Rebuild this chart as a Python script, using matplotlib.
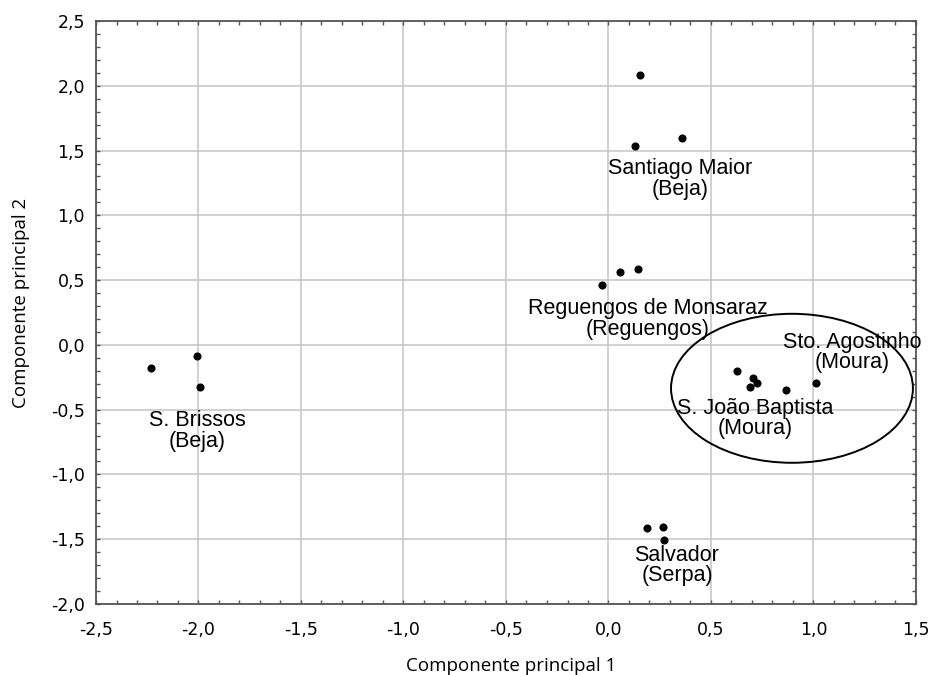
import matplotlib
matplotlib.use("Agg")
import matplotlib.pyplot as plt
from matplotlib.patches import Ellipse
from matplotlib.ticker import MultipleLocator, FuncFormatter

# ---- data ----
pc1 = [0.152, 0.129, 0.360,
       -0.030, 0.056, 0.145,
       0.628, 0.703, 0.726, 0.690, 0.866, 1.011,
       -2.230, -2.009, -1.993,
       0.189, 0.266, 0.271]
pc2 = [2.083, 1.535, 1.600,
       0.463, 0.561, 0.584,
       -0.198, -0.257, -0.296, -0.327, -0.347, -0.296,
       -0.175, -0.083, -0.327,
       -1.412, -1.407, -1.505]

group_labels = ["Santiago Maior\n(Beja)", "Reguengos de Monsaraz\n(Reguengos)",
                "Sto. Agostinho\n(Moura)", "S. João Baptista\n(Moura)",
                "S. Brissos\n(Beja)", "Salvador\n(Serpa)"]
label_x = [0.35, 0.19, 1.19, 0.715, -2.007, 0.334]
label_y = [1.281, 0.20, -0.058, -0.571, -0.664, -1.705]

ellipse_center = (0.895, -0.335)
ellipse_size = (1.18, 1.15)

xlim = (-2.5, 1.5)
ylim = (-2.0, 2.5)

# ---- plot ----
W, H = 933, 675
fig = plt.figure(figsize=(W / 100, H / 100), dpi=100)
ax = fig.add_axes([96 / W, 1 - 604 / H, (916 - 96) / W, (604 - 21) / H])

ax.scatter(pc1, pc2, s=34, color="black", zorder=3, linewidths=0)

for t, lx, ly in zip(group_labels, label_x, label_y):
    ax.text(lx, ly, t, ha="center", va="center", fontsize=15.5,
            family="Liberation Sans", linespacing=0.95, zorder=4,
            multialignment="center")

ax.add_patch(Ellipse(ellipse_center, ellipse_size[0], ellipse_size[1],
                     fill=False, edgecolor="black", linewidth=1.4, zorder=2))

ax.set_xlim(*xlim)
ax.set_ylim(*ylim)
ax.xaxis.set_major_locator(MultipleLocator(0.5))
ax.yaxis.set_major_locator(MultipleLocator(0.5))
ax.xaxis.set_minor_locator(MultipleLocator(0.1))
ax.yaxis.set_minor_locator(MultipleLocator(0.1))
fmt = FuncFormatter(lambda v, p: ("%.1f" % v).replace(".", ","))
ax.xaxis.set_major_formatter(fmt)
ax.yaxis.set_major_formatter(fmt)

ax.grid(True, which="major", color="#c8c8c8", linewidth=1.2, zorder=0)
ax.set_axisbelow(True)
ax.tick_params(which="both", direction="in", top=True, right=True,
               length=3, width=1, color="#555555", labelsize=12.5)
ax.tick_params(axis="x", pad=12)
ax.tick_params(axis="y", pad=8)
for lab in ax.get_xticklabels() + ax.get_yticklabels():
    lab.set_family("DejaVu Sans")
for sp in ax.spines.values():
    sp.set_color("#555555")
    sp.set_linewidth(1.3)

fig.text(511 / W, 1 - 666 / H, "Componente principal 1", fontsize=13.5,
         family="Open Sans", ha="center", va="center")
fig.text(21 / W, 1 - 303 / H, "Componente principal 2", fontsize=13.5,
         family="Open Sans", ha="center", va="center", rotation=90)

fig.savefig("out.png", dpi=100)
